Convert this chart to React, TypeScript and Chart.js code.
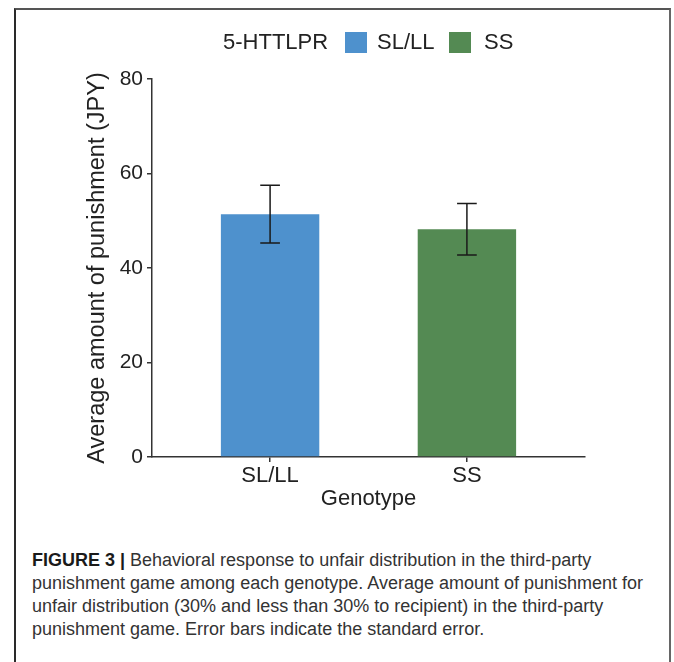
import React, { useEffect, useRef } from 'react';
import { Chart, registerables } from 'chart.js';

Chart.register(...registerables);

// Average punishment (JPY) by 5-HTTLPR genotype, with standard errors
const genotypes = ['SL/LL', 'SS'];
const meanPunishment = [51.4, 48.2];
const standardError = [6.1, 5.45];
const barColors = ['#4E91CD', '#548A53'];
const yTicks = [0, 20, 40, 60, 80];

const FONT = '"Liberation Sans", Arial, Helvetica, sans-serif';
const INK = '#222222';
const AXIS = '#333333';

// Draws the ±SE whiskers on top of each bar using the chart's own y scale
const errorBars = {
  id: 'errorBars',
  afterDatasetsDraw(chart: any) {
    const { ctx } = chart;
    const y = chart.scales.y;
    const meta = chart.getDatasetMeta(0);
    ctx.save();
    ctx.strokeStyle = '#1a1a1a';
    ctx.lineWidth = 1.5;
    meta.data.forEach((bar: any, i: number) => {
      const top = y.getPixelForValue(meanPunishment[i] + standardError[i]);
      const bottom = y.getPixelForValue(meanPunishment[i] - standardError[i]);
      const half = bar.width * 0.1;
      ctx.beginPath();
      ctx.moveTo(bar.x, top);
      ctx.lineTo(bar.x, bottom);
      ctx.moveTo(bar.x - half, top);
      ctx.lineTo(bar.x + half, top);
      ctx.moveTo(bar.x - half, bottom);
      ctx.lineTo(bar.x + half, bottom);
      ctx.stroke();
    });
    ctx.restore();
  },
};

function PunishmentChart() {
  const canvasRef = useRef<HTMLCanvasElement | null>(null);

  useEffect(() => {
    if (!canvasRef.current) return;
    const chart = new Chart(canvasRef.current, {
      type: 'bar',
      data: {
        datasets: [
          {
            data: genotypes.map((_, i) => ({ x: i + 1, y: meanPunishment[i] })),
            backgroundColor: barColors,
            borderWidth: 0,
            barPercentage: 0.5,
            categoryPercentage: 1,
          },
        ],
      },
      options: {
        responsive: false,
        animation: false,
        events: [],
        layout: { padding: { top: 79, left: 80, right: 89, bottom: 0 } },
        plugins: {
          legend: { display: false },
          tooltip: { enabled: false },
        },
        scales: {
          x: {
            type: 'linear',
            min: 0.4,
            max: 2.6,
            offset: false,
            z: 1,
            afterBuildTicks: (s: any) => {
              s.ticks = genotypes.map((_, i) => ({ value: i + 1 }));
            },
            afterFit: (s: any) => {
              s.height = 63;
            },
            ticks: {
              callback: (v: any) => genotypes[Number(v) - 1] ?? '',
              font: { family: FONT, size: 22 },
              color: INK,
              padding: 1,
              autoSkip: false,
              maxRotation: 0,
            },
            grid: {
              offset: false,
              drawOnChartArea: false,
              drawTicks: true,
              tickLength: 5,
              color: AXIS,
              lineWidth: 1.5,
            },
            border: { color: AXIS, width: 1.5 },
            title: {
              display: true,
              text: 'Genotype',
              font: { family: FONT, size: 22 },
              color: INK,
              padding: { top: 0, bottom: 8 },
            },
          },
          y: {
            min: 0,
            max: 80,
            afterBuildTicks: (s: any) => {
              s.ticks = yTicks.map((v) => ({ value: v }));
            },
            afterFit: (s: any) => {
              s.width = 72;
            },
            ticks: {
              font: { family: FONT, size: 21 },
              color: INK,
              padding: 4,
            },
            grid: {
              drawOnChartArea: false,
              drawTicks: true,
              tickLength: 5,
              color: AXIS,
              lineWidth: 1.5,
            },
            border: { color: AXIS, width: 1.5 },
            title: {
              display: true,
              text: 'Average amount of punishment (JPY)',
              font: { family: FONT, size: 23.5 },
              color: INK,
              padding: { top: 3, bottom: 0 },
            },
          },
        },
      },
      plugins: [errorBars],
    } as any);
    return () => chart.destroy();
  }, []);

  return (
    <canvas
      ref={canvasRef}
      width={674}
      height={520}
      style={{ position: 'absolute', left: 0, top: 0, width: 674, height: 520 }}
    />
  );
}

const legendText = (left: number): React.CSSProperties => ({
  position: 'absolute',
  left,
  top: 29,
  fontSize: 22,
  lineHeight: '26px',
  color: INK,
  whiteSpace: 'nowrap',
});

const swatch = (left: number, color: string): React.CSSProperties => ({
  position: 'absolute',
  left,
  top: 32,
  width: 22,
  height: 21,
  background: color,
});

export default function App() {
  return (
    <div
      style={{
        position: 'absolute',
        left: 0,
        top: 0,
        width: 674,
        height: 662,
        background: '#ffffff',
        overflow: 'hidden',
        fontFamily: FONT,
      }}
    >
      <div
        style={{
          position: 'absolute',
          left: 14,
          top: 8,
          width: 657,
          height: 670,
          borderTop: '2px solid #555',
          borderLeft: '2px solid #2a2a2a',
          borderRight: '2px solid #666',
          boxSizing: 'border-box',
        }}
      />
      <PunishmentChart />
      <span style={legendText(223)}>5-HTTLPR</span>
      <span style={swatch(345, barColors[0])} />
      <span style={legendText(377)}>{genotypes[0]}</span>
      <span style={swatch(449, barColors[1])} />
      <span style={legendText(484)}>{genotypes[1]}</span>
      <div
        style={{
          position: 'absolute',
          left: 32,
          top: 549,
          width: 640,
          fontSize: 18,
          lineHeight: '23px',
          color: '#333333',
          whiteSpace: 'nowrap',
        }}
      >
        <b style={{ color: '#1a1a1a' }}>FIGURE 3 |</b> Behavioral response to unfair distribution in the third-party
        <br />
        punishment game among each genotype. Average amount of punishment for
        <br />
        unfair distribution (30% and less than 30% to recipient) in the third-party
        <br />
        punishment game. Error bars indicate the standard error.
      </div>
    </div>
  );
}
